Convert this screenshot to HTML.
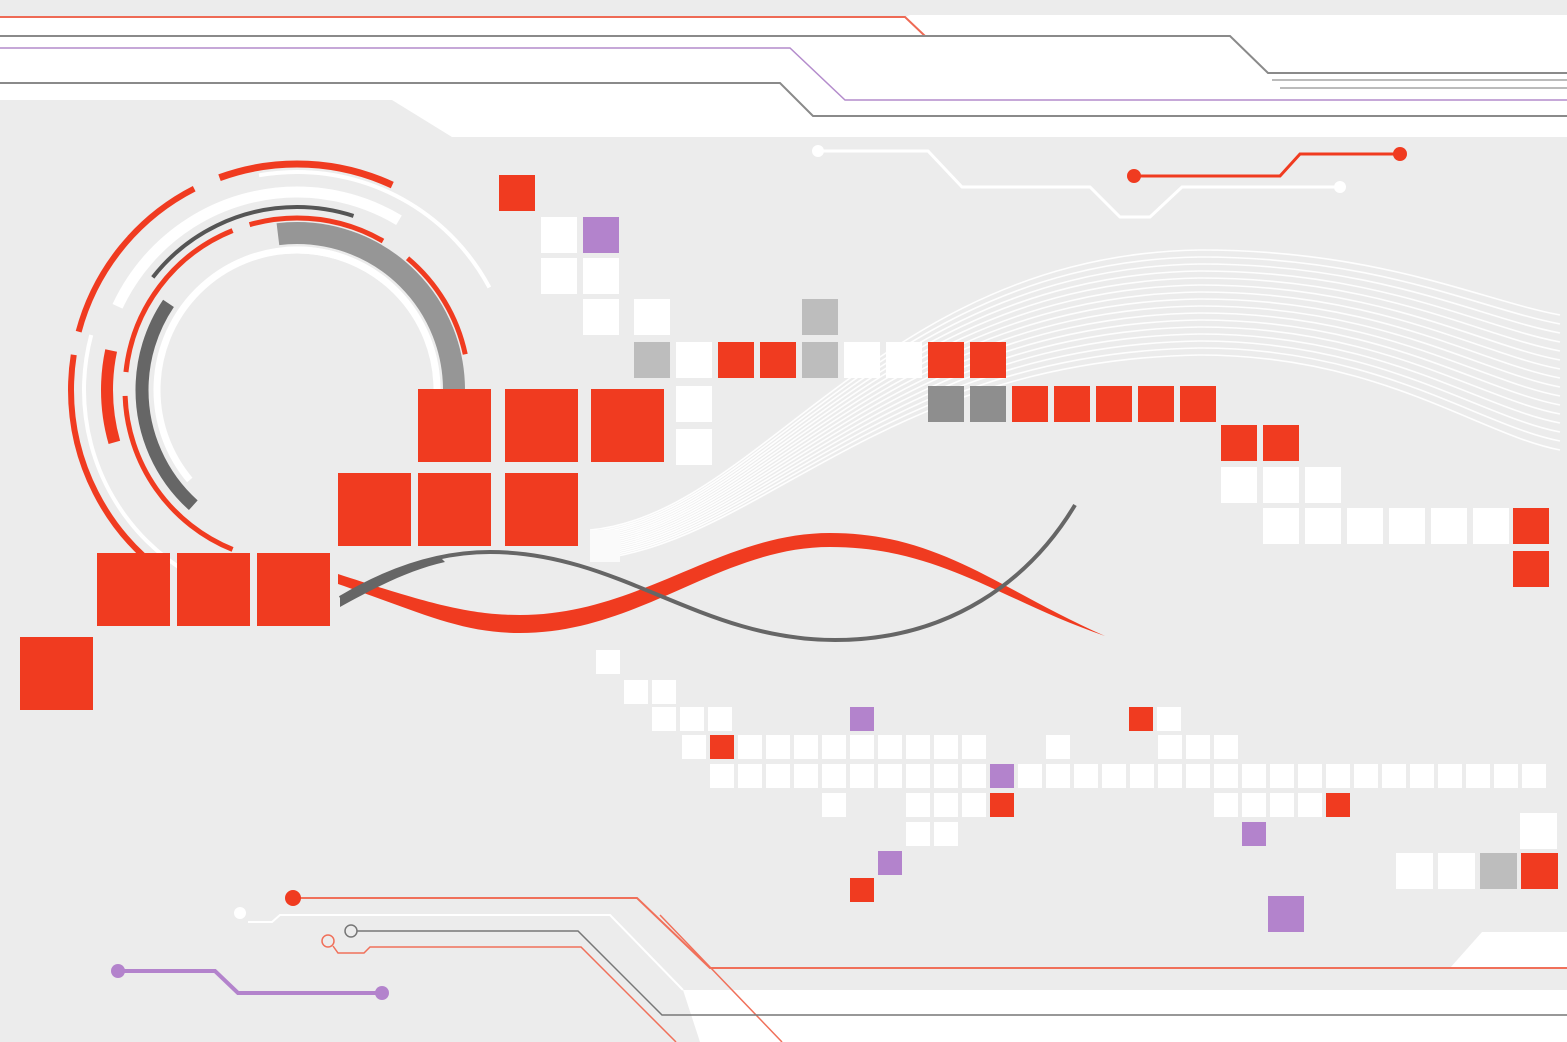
<!DOCTYPE html>
<html><head><meta charset="utf-8"><style>
html,body{margin:0;padding:0;background:#ececec;width:1567px;height:1042px;overflow:hidden}
svg{display:block}
</style></head><body>
<svg width="1567" height="1042" viewBox="0 0 1567 1042" xmlns="http://www.w3.org/2000/svg">
<rect width="1567" height="1042" fill="#ececec"/>
<!-- top white band -->
<polygon points="0,17 905,17 910,15 1567,15 1567,137 452,137 392,100 0,100" fill="#fff"/>
<g fill="none" stroke-width="2">
<polyline points="0,17 905,17 925,36" stroke="#ee6a55"/>
<polyline points="0,36 1230,36 1268,73 1567,73" stroke="#8a8a8a"/>
<polyline points="1272,80 1567,80" stroke="#bbb"/>
<polyline points="1280,88 1567,88" stroke="#bbb"/>
<polyline points="0,48 790,48 845,100 1567,100" stroke="#b48ccc" stroke-width="1.5"/>
<polyline points="0,83 780,83 813,116 1567,116" stroke="#8a8a8a"/>
</g>
<!-- top circuits -->
<g fill="none" stroke-width="3">
<polyline points="818,151 928,151 962,187 1090,187 1120,217 1150,217 1182,187 1340,187" stroke="#fff"/>
<polyline points="1134,176 1280,176 1300,154 1400,154" stroke="#f03b20"/>
</g>
<circle cx="818" cy="151" r="6" fill="#fff"/><circle cx="1340" cy="187" r="6" fill="#fff"/>
<circle cx="1134" cy="176" r="7" fill="#f03b20"/><circle cx="1400" cy="154" r="7" fill="#f03b20"/>

<!-- white fan lines -->
<g fill="none" stroke="#fff" stroke-width="1.6" opacity="0.95">
<path d="M590,530 C760,515 880,255 1200,250 C1380,250 1480,300 1560,315"/>
<path d="M590,532 C760,517 880,262 1200,257 C1380,257 1480,309 1560,324"/>
<path d="M590,534 C760,519 880,269 1200,264 C1380,264 1480,318 1560,333"/>
<path d="M590,536 C760,521 880,276 1200,271 C1380,271 1480,327 1560,342"/>
<path d="M590,538 C760,523 880,283 1200,278 C1380,278 1480,336 1560,351"/>
<path d="M590,540 C760,525 880,290 1200,285 C1380,285 1480,345 1560,360"/>
<path d="M590,542 C760,527 880,297 1200,292 C1380,292 1480,354 1560,369"/>
<path d="M590,544 C760,529 880,304 1200,299 C1380,299 1480,363 1560,378"/>
<path d="M590,546 C760,531 880,311 1200,306 C1380,306 1480,372 1560,387"/>
<path d="M590,548 C760,533 880,318 1200,313 C1380,313 1480,381 1560,396"/>
<path d="M590,550 C760,535 880,325 1200,320 C1380,320 1480,390 1560,405"/>
<path d="M590,552 C760,537 880,332 1200,327 C1380,327 1480,399 1560,414"/>
<path d="M590,554 C760,539 880,339 1200,334 C1380,334 1480,408 1560,423"/>
<path d="M590,556 C760,541 880,346 1200,341 C1380,341 1480,417 1560,432"/>
<path d="M590,558 C760,543 880,353 1200,348 C1380,348 1480,426 1560,441"/>
<path d="M590,560 C760,545 880,360 1200,355 C1380,355 1480,435 1560,450"/>
</g>
<rect x="590" y="530" width="30" height="32" fill="#fafafa"/>

<!-- circle arcs, center 297,390 -->
<g fill="none" transform="translate(297,390)">
<circle r="140" stroke="#fff" stroke-width="7" pathLength="360" stroke-dasharray="170 190" stroke-dashoffset="-140"/>
<circle r="140" stroke="#fff" stroke-width="7" pathLength="360" stroke-dasharray="95 265" stroke-dashoffset="-265"/>
<circle r="157" stroke="#969696" stroke-width="22" pathLength="360" stroke-dasharray="97 263" stroke-dashoffset="-263"/>
<circle r="172" stroke="#f03b20" stroke-width="5" pathLength="360" stroke-dasharray="46 314" stroke-dashoffset="-254"/>
<circle r="172" stroke="#f03b20" stroke-width="5" pathLength="360" stroke-dasharray="38 322" stroke-dashoffset="-310"/>
<circle r="172" stroke="#f03b20" stroke-width="5" pathLength="360" stroke-dasharray="62 298" stroke-dashoffset="-186"/>
<circle r="172" stroke="#f03b20" stroke-width="5" pathLength="360" stroke-dasharray="66 294" stroke-dashoffset="-112"/>
<circle r="155" stroke="#666" stroke-width="13" pathLength="360" stroke-dasharray="82 278" stroke-dashoffset="-132"/>
<circle r="183" stroke="#555" stroke-width="4" pathLength="360" stroke-dasharray="70 290" stroke-dashoffset="-218"/>
<circle r="198" stroke="#fff" stroke-width="11" pathLength="360" stroke-dasharray="96 264" stroke-dashoffset="-205"/>
<circle r="218" stroke="#fff" stroke-width="4" pathLength="360" stroke-dasharray="72 288" stroke-dashoffset="-260"/>
<circle r="213" stroke="#fff" stroke-width="4" pathLength="360" stroke-dasharray="75 285" stroke-dashoffset="-120"/>
<circle r="226" stroke="#f03b20" stroke-width="7" pathLength="360" stroke-dasharray="45 315" stroke-dashoffset="-250"/>
<circle r="226" stroke="#f03b20" stroke-width="6" pathLength="360" stroke-dasharray="48 312" stroke-dashoffset="-195"/>
<circle r="226" stroke="#f03b20" stroke-width="6" pathLength="360" stroke-dasharray="63 297" stroke-dashoffset="-126"/>
<circle r="190" stroke="#f03b20" stroke-width="12" pathLength="360" stroke-dasharray="28 332" stroke-dashoffset="-164"/>
</g>

<!-- waves -->
<path d="M338,574 C430,604 470,615 520,615 C640,615 720,533 830,533 C940,533 1000,590 1105,636 C1000,600 940,547 830,547 C720,547 640,633 520,633 C460,633 420,612 338,584 Z" fill="#f03b20"/>
<path d="M340,598 C400,562 450,552 490,552 C620,552 700,640 835,640 C950,640 1030,580 1075,505" fill="none" stroke="#666" stroke-width="4"/>
<path d="M340,596 C380,574 410,563 440,557 L445,562 C410,570 380,585 340,607 Z" fill="#666"/>

<!-- big red squares -->
<g fill="#f03b20">
<rect x="418" y="389" width="73" height="73"/><rect x="505" y="389" width="73" height="73"/><rect x="591" y="389" width="73" height="73"/>
<rect x="338" y="473" width="73" height="73"/><rect x="418" y="473" width="73" height="73"/><rect x="505" y="473" width="73" height="73"/>
<rect x="97" y="553" width="73" height="73"/><rect x="177" y="553" width="73" height="73"/><rect x="257" y="553" width="73" height="73"/>
<rect x="20" y="637" width="73" height="73"/>
</g>

<!-- medium squares -->
<g>
<rect x="499" y="175" width="36" height="36" fill="#f03b20"/>
<rect x="541" y="217" width="36" height="36" fill="#fff"/><rect x="583" y="217" width="36" height="36" fill="#b383cc"/>
<rect x="541" y="258" width="36" height="36" fill="#fff"/><rect x="583" y="258" width="36" height="36" fill="#fff"/>
<rect x="583" y="299" width="36" height="36" fill="#fff"/><rect x="634" y="299" width="36" height="36" fill="#fff"/>
<rect x="802" y="299" width="36" height="36" fill="#bdbdbd"/>
<rect x="634" y="342" width="36" height="36" fill="#bdbdbd"/><rect x="676" y="342" width="36" height="36" fill="#fff"/>
<rect x="718" y="342" width="36" height="36" fill="#f03b20"/><rect x="760" y="342" width="36" height="36" fill="#f03b20"/>
<rect x="802" y="342" width="36" height="36" fill="#bdbdbd"/><rect x="844" y="342" width="36" height="36" fill="#fff"/>
<rect x="886" y="342" width="36" height="36" fill="#fff"/><rect x="928" y="342" width="36" height="36" fill="#f03b20"/>
<rect x="970" y="342" width="36" height="36" fill="#f03b20"/>
<rect x="676" y="386" width="36" height="36" fill="#fff"/><rect x="676" y="429" width="36" height="36" fill="#fff"/>
<rect x="928" y="386" width="36" height="36" fill="#8e8e8e"/><rect x="970" y="386" width="36" height="36" fill="#8e8e8e"/>
<rect x="1012" y="386" width="36" height="36" fill="#f03b20"/><rect x="1054" y="386" width="36" height="36" fill="#f03b20"/>
<rect x="1096" y="386" width="36" height="36" fill="#f03b20"/><rect x="1138" y="386" width="36" height="36" fill="#f03b20"/>
<rect x="1180" y="386" width="36" height="36" fill="#f03b20"/>
<rect x="1221" y="425" width="36" height="36" fill="#f03b20"/><rect x="1263" y="425" width="36" height="36" fill="#f03b20"/>
<rect x="1221" y="467" width="36" height="36" fill="#fff"/><rect x="1263" y="467" width="36" height="36" fill="#fff"/><rect x="1305" y="467" width="36" height="36" fill="#fff"/>
<rect x="1263" y="508" width="36" height="36" fill="#fff"/><rect x="1305" y="508" width="36" height="36" fill="#fff"/>
<rect x="1347" y="508" width="36" height="36" fill="#fff"/><rect x="1389" y="508" width="36" height="36" fill="#fff"/>
<rect x="1431" y="508" width="36" height="36" fill="#fff"/><rect x="1473" y="508" width="36" height="36" fill="#fff"/>
<rect x="1513" y="508" width="36" height="36" fill="#f03b20"/><rect x="1513" y="551" width="36" height="36" fill="#f03b20"/>
<rect x="1520" y="813" width="37" height="36" fill="#fff"/>
<rect x="1396" y="853" width="37" height="36" fill="#fff"/><rect x="1438" y="853" width="37" height="36" fill="#fff"/>
<rect x="1480" y="853" width="37" height="36" fill="#bdbdbd"/><rect x="1521" y="853" width="37" height="36" fill="#f03b20"/>
<rect x="1268" y="896" width="36" height="36" fill="#b383cc"/>
</g>

<!-- small squares -->
<g fill="#fff">
<rect x="596" y="650" width="24" height="24"/>
<rect x="624" y="680" width="24" height="24"/><rect x="652" y="680" width="24" height="24"/>
<rect x="652" y="707" width="24" height="24"/><rect x="680" y="707" width="24" height="24"/><rect x="708" y="707" width="24" height="24"/>
<rect x="1157" y="707" width="24" height="24"/>
<rect x="682" y="735" width="24" height="24"/>
<rect x="738" y="735" width="24" height="24"/><rect x="766" y="735" width="24" height="24"/><rect x="794" y="735" width="24" height="24"/>
<rect x="822" y="735" width="24" height="24"/><rect x="850" y="735" width="24" height="24"/><rect x="878" y="735" width="24" height="24"/>
<rect x="906" y="735" width="24" height="24"/><rect x="934" y="735" width="24" height="24"/><rect x="962" y="735" width="24" height="24"/>
<rect x="1046" y="735" width="24" height="24"/>
<rect x="1158" y="735" width="24" height="24"/><rect x="1186" y="735" width="24" height="24"/><rect x="1214" y="735" width="24" height="24"/>
<rect x="710" y="764" width="24" height="24"/><rect x="738" y="764" width="24" height="24"/><rect x="766" y="764" width="24" height="24"/>
<rect x="794" y="764" width="24" height="24"/><rect x="822" y="764" width="24" height="24"/><rect x="850" y="764" width="24" height="24"/>
<rect x="878" y="764" width="24" height="24"/><rect x="906" y="764" width="24" height="24"/><rect x="934" y="764" width="24" height="24"/>
<rect x="962" y="764" width="24" height="24"/>
<rect x="1018" y="764" width="24" height="24"/><rect x="1046" y="764" width="24" height="24"/><rect x="1074" y="764" width="24" height="24"/>
<rect x="1102" y="764" width="24" height="24"/><rect x="1130" y="764" width="24" height="24"/><rect x="1158" y="764" width="24" height="24"/>
<rect x="1186" y="764" width="24" height="24"/><rect x="1214" y="764" width="24" height="24"/><rect x="1242" y="764" width="24" height="24"/>
<rect x="1270" y="764" width="24" height="24"/><rect x="1298" y="764" width="24" height="24"/><rect x="1326" y="764" width="24" height="24"/>
<rect x="1354" y="764" width="24" height="24"/><rect x="1382" y="764" width="24" height="24"/><rect x="1410" y="764" width="24" height="24"/>
<rect x="1438" y="764" width="24" height="24"/><rect x="1466" y="764" width="24" height="24"/><rect x="1494" y="764" width="24" height="24"/>
<rect x="1522" y="764" width="24" height="24"/>
<rect x="822" y="793" width="24" height="24"/>
<rect x="906" y="793" width="24" height="24"/><rect x="934" y="793" width="24" height="24"/><rect x="962" y="793" width="24" height="24"/>
<rect x="1214" y="793" width="24" height="24"/><rect x="1242" y="793" width="24" height="24"/><rect x="1270" y="793" width="24" height="24"/><rect x="1298" y="793" width="24" height="24"/>
<rect x="906" y="822" width="24" height="24"/><rect x="934" y="822" width="24" height="24"/>
</g>
<g fill="#f03b20">
<rect x="710" y="735" width="24" height="24"/><rect x="1129" y="707" width="24" height="24"/>
<rect x="990" y="793" width="24" height="24"/><rect x="1326" y="793" width="24" height="24"/>
<rect x="850" y="878" width="24" height="24"/>
</g>
<g fill="#b383cc">
<rect x="850" y="707" width="24" height="24"/><rect x="990" y="764" width="24" height="24"/>
<rect x="1242" y="822" width="24" height="24"/><rect x="878" y="851" width="24" height="24"/>
</g>

<!-- bottom white band -->
<polygon points="683,990 1567,990 1567,1042 700,1042" fill="#fff"/>
<polygon points="1450,968 1482,932 1567,932 1567,968" fill="#fff"/>
<!-- bottom circuits -->
<g fill="none" stroke-width="1.5">
<polyline points="293,898 637,898 710,968 1567,968" stroke="#f0705a" stroke-width="2"/>
<polyline points="660,915 782,1042" stroke="#f0705a"/>
<polyline points="248,922 272,922 280,915 610,915 683,990" stroke="#fff" stroke-width="2"/>
<polyline points="357,931 578,931 662,1015 1567,1015" stroke="#777"/>
<polyline points="333,946 338,953 364,953 370,947 581,947 676,1042" stroke="#f0705a"/>
<polyline points="118,971 215,971 238,993 382,993" stroke="#b383cc" stroke-width="4"/>
</g>
<circle cx="293" cy="898" r="8" fill="#f03b20"/>
<circle cx="240" cy="913" r="6" fill="#fff"/>
<circle cx="351" cy="931" r="6" fill="none" stroke="#777" stroke-width="1.5"/>
<circle cx="328" cy="941" r="6" fill="none" stroke="#f0705a" stroke-width="1.5"/>
<circle cx="118" cy="971" r="7" fill="#b383cc"/>
<circle cx="382" cy="993" r="7" fill="#b383cc"/>
</svg>
</body></html>
